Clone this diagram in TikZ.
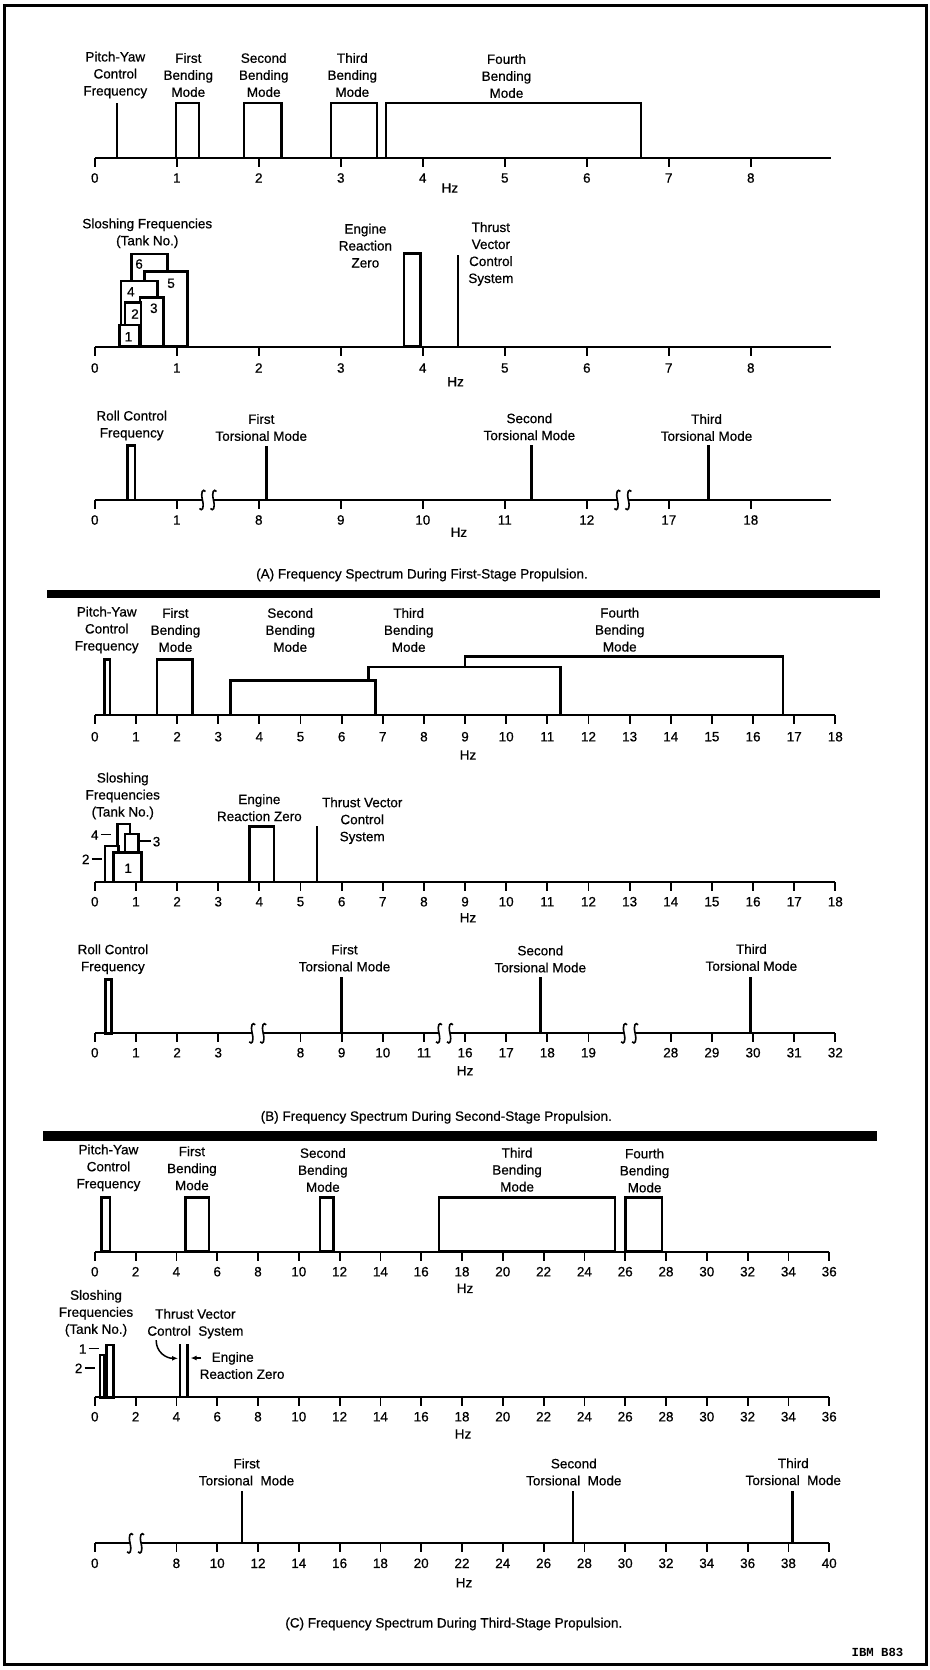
\documentclass[tikz,border=0pt]{standalone}
\usepackage{fontspec}
\setmainfont{Liberation Sans}[FakeBold=0.6]
\setmonofont{Liberation Mono}
\usetikzlibrary{arrows.meta}

\newcommand{\lblfont}{\fontsize{13.5}{17}\selectfont}
\newcommand{\tankdash}{\rule[0.32em]{0.75em}{0.13em}}

\tikzset{
  haxis/.style={line width=2.2pt},
  htick/.style={line width=1.8pt},
  band/.style={draw, fill=white, line width=2.6pt},
  spike/.style={line width=2.8pt},
  lbl/.style={font=\lblfont, align=center, inner sep=0pt},
  num/.style={font=\lblfont, inner sep=0pt},
  lead/.style={line width=1.5pt, -{Latex[length=6pt,width=5pt]}},
  axiscut/.pic={
    \foreach \s in {-5.5,5.5}
      \draw[x=1pt,y=1pt,line width=1.6pt,shift={(\s,0)}]
        (3,8.5) .. controls (0.5,11.5) and (-2,8.5) .. (0,0)
              .. controls (2,-8.5) and (-0.5,-11.5) .. (-3,-8.5);
  }
}

\begin{document}
\begin{tikzpicture}[x=1pt,y=-1pt]
    \useasboundingbox (0,0) rectangle (929,1670);
    \draw[line width=3pt] (4,6) rectangle (926,1664);

    % (A) first stage, bending modes
    \begin{scope}[shift={(94.8,158)},x=82pt,y=1pt]
    \draw[spike] (0.27,0) -- (0.27,55);
    \draw[band] (0.99,0) rectangle (1.27,55);
    \draw[band] (1.82,0) rectangle (2.28,55);
    \draw[band] (2.88,0) rectangle (3.44,55);
    \draw[band] (3.55,0) rectangle (6.66,55);
    \draw[haxis] (0,0) -- (8.98,0);
    \foreach \i in {0,...,8} {
      \draw[htick] (\i,0) -- (\i,-9);
      \node[num] (A1n\i) at (\i,-20) {\i};
    }
    \node[num] (A1hz) at (4.33,-30) {Hz};
    \node[lbl] (A1py) at (0.25,83) {Pitch-Yaw\\Control\\Frequency};
    \node[lbl] (A1b1) at (1.14,83) {First\\Bending\\Mode};
    \node[lbl] (A1b2) at (2.06,83) {Second\\Bending\\Mode};
    \node[lbl] (A1b3) at (3.14,83) {Third\\Bending\\Mode};
    \node[lbl] (A1b4) at (5.02,82) {Fourth\\Bending\\Mode};
    \end{scope}

    % (A) sloshing, engine, TVC
    \begin{scope}[shift={(94.8,346.7)},x=82pt,y=1pt]
    \draw[band] (0.45,0) rectangle (0.884,92.7);
    \draw[band] (0.604,0) rectangle (1.128,75);
    \draw[band] (0.32,0) rectangle (0.762,65.7);
    \draw[band] (0.551,0) rectangle (0.835,49.4);
    \draw[band] (0.368,0) rectangle (0.563,44);
    \draw[band] (0.299,0) rectangle (0.543,21.7);
    \node[num] (A2s1) at (0.41,10) {1};
    \node[num] (A2s2) at (0.49,32.7) {2};
    \node[num] (A2s3) at (0.72,38.4) {3};
    \node[num] (A2s4) at (0.44,55) {4};
    \node[num] (A2s5) at (0.93,63.4) {5};
    \node[num] (A2s6) at (0.54,82.7) {6};
    \draw[band] (3.77,0) rectangle (3.97,93.4);
    \draw[spike] (4.43,0) -- (4.43,91.7);
    \draw[haxis] (0,0) -- (8.98,0);
    \foreach \i in {0,...,8} {
      \draw[htick] (\i,0) -- (\i,-9);
      \node[num] (A2n\i) at (\i,-21.3) {\i};
    }
    \node[num] (A2hz) at (4.40,-35) {Hz};
    \node[lbl] (A2slosh) at (0.64,113.4) {Sloshing Frequencies\\(Tank No.)};
    \node[lbl] (A2erz) at (3.30,101) {Engine\\Reaction\\Zero};
    \node[lbl] (A2tvc) at (4.83,92.7) {Thrust\\Vector\\Control\\System};
    \end{scope}

    % (A) roll and torsion
    \begin{scope}[shift={(94.8,500)},x=82pt,y=1pt]
    \draw[band] (0.4,0) rectangle (0.49,54.3);
    \draw[spike] (2.09,0) -- (2.09,54);
    \draw[spike] (5.33,0) -- (5.33,55);
    \draw[spike] (7.48,0) -- (7.48,55);
    \draw[haxis] (0,0) -- ([xshift=-5.5pt]1.38,0) ([xshift=5.5pt]1.38,0) -- ([xshift=-5.5pt]6.44,0)
      ([xshift=5.5pt]6.44,0) -- (8.98,0);
    \pic at (1.38,0) {axiscut};
    \pic at (6.44,0) {axiscut};
    \foreach \v [count=\i from 0] in {0,1,8,9,10,11,12,17,18} {
      \draw[htick] (\i,0) -- (\i,-9);
      \node[num] (A3n\i) at (\i,-20) {\v};
    }
    \node[num] (A3hz) at (4.44,-32.3) {Hz};
    \node[lbl] (A3roll) at (0.45,74.5) {Roll Control\\Frequency};
    \node[lbl] (A3t1) at (2.03,72.5) {First\\Torsional Mode};
    \node[lbl] (A3t2) at (5.30,73.2) {Second\\Torsional Mode};
    \node[lbl] (A3t3) at (7.46,72.5) {Third\\Torsional Mode};
    \end{scope}

    \node[lbl] (capA) at (422,575) {(A) Frequency Spectrum During First-Stage Propulsion.};
    \fill (47.4,590) rectangle (879.7,598.3);

    % (B) second stage, bending modes
    \begin{scope}[shift={(94.8,715)},x=41.14pt,y=1pt]
    \draw[band] (9.0,0) rectangle (16.73,58.3);
    \draw[band] (6.65,0) rectangle (11.32,48);
    \draw[band] (3.3,0) rectangle (6.83,34.3);
    \draw[band] (1.51,0) rectangle (2.38,55.7);
    \draw[band] (0.23,0) rectangle (0.37,55.7);
    \draw[haxis] (0,0) -- (18,0);
    \foreach \i in {0,...,18} {
      \draw[htick] (\i,0) -- (\i,-9);
      \node[num] (B1n\i) at (\i,-21.7) {\i};
    }
    \node[num] (B1hz) at (9.07,-40) {Hz};
    \node[lbl] (B1py) at (0.29,85) {Pitch-Yaw\\Control\\Frequency};
    \node[lbl] (B1b1) at (1.96,85) {First\\Bending\\Mode};
    \node[lbl] (B1b2) at (4.75,85) {Second\\Bending\\Mode};
    \node[lbl] (B1b3) at (7.63,85) {Third\\Bending\\Mode};
    \node[lbl] (B1b4) at (12.76,85.3) {Fourth\\Bending\\Mode};
    \end{scope}

    % (B) sloshing, engine, TVC
    \begin{scope}[shift={(94.8,882)},x=41.14pt,y=1pt]
    \draw[band] (0.547,0) rectangle (0.856,58);
    \draw[band] (0.734,0) rectangle (1.057,48);
    \draw[band] (0.248,0) rectangle (0.571,36);
    \draw[band] (0.45,0) rectangle (1.14,29.7);
    \node[num] (B2s1) at (0.81,13.7) {1};
    \node[num] (B2s2) at (-0.07,22.7) {2\,\tankdash};
    \node[num] (B2s3) at (1.35,40.3) {\tankdash\,3};
    \node[num] (B2s4) at (0.15,47) {4\,\tankdash};
    \draw[band] (3.76,0) rectangle (4.36,55.4);
    \draw[spike] (5.40,0) -- (5.40,56);
    \draw[haxis] (0,0) -- (18,0);
    \foreach \i in {0,...,18} {
      \draw[htick] (\i,0) -- (\i,-9);
      \node[num] (B2n\i) at (\i,-19.7) {\i};
    }
    \node[num] (B2hz) at (9.07,-35.7) {Hz};
    \node[lbl] (B2slosh) at (0.68,86) {Sloshing\\Frequencies\\(Tank No.)};
    \node[lbl] (B2erz) at (4.0,74.3) {Engine\\Reaction Zero};
    \node[lbl] (B2tvc) at (6.5,61.3) {Thrust Vector\\Control\\System};
    \end{scope}

    % (B) roll and torsion
    \begin{scope}[shift={(94.8,1033.3)},x=41.14pt,y=1pt]
    \draw[band] (0.26,0) rectangle (0.40,54);
    \draw[spike] (6.0,0) -- (6.0,56);
    \draw[spike] (10.83,0) -- (10.83,56);
    \draw[spike] (15.94,0) -- (15.94,56);
    \draw[haxis] (0,0) -- ([xshift=-5.5pt]3.96,0) ([xshift=5.5pt]3.96,0) -- ([xshift=-5.5pt]8.5,0)
      ([xshift=5.5pt]8.5,0) -- ([xshift=-5.5pt]13,0) ([xshift=5.5pt]13,0) -- (18,0);
    \pic at (3.96,0) {axiscut};
    \pic at (8.5,0) {axiscut};
    \pic at (13,0) {axiscut};
    \foreach \i/\v in {0/0,1/1,2/2,3/3,5/8,6/9,7/10,8/11,9/16,10/17,11/18,12/19,14/28,15/29,16/30,17/31,18/32} {
      \draw[htick] (\i,0) -- (\i,-9);
      \node[num] (B3n\i) at (\i,-19.4) {\v};
    }
    \node[num] (B3hz) at (9.0,-37.4) {Hz};
    \node[lbl] (B3roll) at (0.44,74.1) {Roll Control\\Frequency};
    \node[lbl] (B3t1) at (6.07,75.3) {First\\Torsional Mode};
    \node[lbl] (B3t2) at (10.83,74.3) {Second\\Torsional Mode};
    \node[lbl] (B3t3) at (15.96,75.8) {Third\\Torsional Mode};
    \end{scope}

    \node[lbl] (capB) at (436.3,1117.3) {(B) Frequency Spectrum During Second-Stage Propulsion.};
    \fill (42.7,1130.7) rectangle (876.8,1140.7);

    % (C) third stage, bending modes
    \begin{scope}[shift={(94.8,1251.7)},x=20.4pt,y=1pt]
    \draw[band] (0.32,0) rectangle (0.75,54);
    \draw[band] (4.44,0) rectangle (5.6,54);
    \draw[band] (11.04,0) rectangle (11.7,54);
    \draw[band] (16.87,0) rectangle (25.5,54);
    \draw[band] (26.0,0) rectangle (27.8,54);
    \draw[haxis] (0,0) -- (36,0);
    \foreach \i in {0,2,...,36} {
      \draw[htick] (\i,0) -- (\i,-9);
      \node[num] (C1n\i) at (\i,-20) {\i};
    }
    \node[num] (C1hz) at (18.15,-36.6) {Hz};
    \node[lbl] (C1py) at (0.67,83.9) {Pitch-Yaw\\Control\\Frequency};
    \node[lbl] (C1b1) at (4.76,83.4) {First\\Bending\\Mode};
    \node[lbl] (C1b2) at (11.18,81.7) {Second\\Bending\\Mode};
    \node[lbl] (C1b3) at (20.7,82) {Third\\Bending\\Mode};
    \node[lbl] (C1b4) at (26.95,81.2) {Fourth\\Bending\\Mode};
    \end{scope}

    % (C) sloshing, TVC, engine
    \begin{scope}[shift={(94.8,1397.3)},x=20.4pt,y=1pt]
    \draw[band] (0.25,0) rectangle (0.46,42.3);
    \draw[band] (0.58,0) rectangle (0.91,52.3);
    \node[num] (C2s1) at (-0.29,48.3) {1\,\tankdash};
    \node[num] (C2s2) at (-0.49,29) {2\,\tankdash};
    \draw[spike] (4.18,0) -- (4.18,53.3);
    \draw[spike] (4.55,0) -- (4.55,53.3);
    \draw[haxis] (0,0) -- (36,0);
    \foreach \i in {0,2,...,36} {
      \draw[htick] (\i,0) -- (\i,-9);
      \node[num] (C2n\i) at (\i,-19.4) {\i};
    }
    \node[num] (C2hz) at (18.05,-36.7) {Hz};
    \node[lbl] (C2slosh) at (0.06,84) {Sloshing\\Frequencies\\(Tank No.)};
    \node[lbl] (C2tvc) at (4.93,73.6) {Thrust Vector\\Control~~System};
    \node[lbl,align=left] (C2erz) at (7.22,31.8) {\hspace*{12pt}Engine\\Reaction Zero};
    \coordinate (C2tvcTip) at (4.08,39);
    \coordinate (C2erzTip) at (4.70,39.3);
    \draw[lead] ([xshift=9pt,yshift=-1.5pt]C2tvc.south west) .. controls +(0pt,-12pt) and +(-12pt,0pt) .. (C2tvcTip);
    \draw[lead] ([xshift=2pt,yshift=7.5pt]C2erz.west) -- (C2erzTip);
    \end{scope}

    % (C) torsion
    \begin{scope}[shift={(94.8,1543.3)},x=40.8pt,y=1pt]
    \draw[spike] (3.61,0) -- (3.61,52.6);
    \draw[spike] (11.72,0) -- (11.72,52.6);
    \draw[spike] (17.1,0) -- (17.1,52.6);
    \draw[haxis] (0,0) -- ([xshift=-5.5pt]1.0,0) ([xshift=5.5pt]1.0,0) -- (18,0);
    \pic at (1.0,0) {axiscut};
    \draw[htick] (0,0) -- (0,-9);
    \node[num] (C3n0) at (0,-20) {0};
    \foreach \i in {2,...,18} {
      \pgfmathtruncatemacro{\v}{2*\i+4}
      \draw[htick] (\i,0) -- (\i,-9);
      \node[num] (C3n\i) at (\i,-20) {\v};
    }
    \node[num] (C3hz) at (9.05,-39.4) {Hz};
    \node[lbl] (C3t1) at (3.72,71.3) {First\\Torsional~~Mode};
    \node[lbl] (C3t2) at (11.74,71.3) {Second\\Torsional~~Mode};
    \node[lbl] (C3t3) at (17.12,71.6) {Third\\Torsional~~Mode};
    \end{scope}

    \node[lbl] (capC) at (453.8,1624) {(C) Frequency Spectrum During Third-Stage Propulsion.};
    \node[font=\fontsize{12.3}{14}\selectfont\ttfamily\bfseries, inner sep=0pt] (ibm) at (877.5,1652.7) {IBM B83};

\end{tikzpicture}
\end{document}
